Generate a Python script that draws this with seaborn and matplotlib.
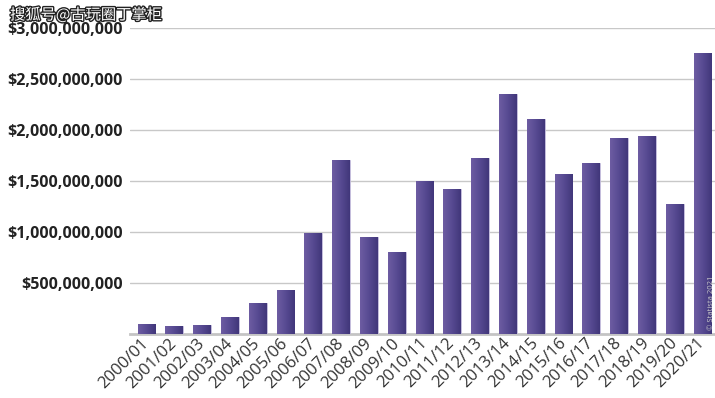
import numpy as np
import matplotlib
matplotlib.use("Agg")
import matplotlib.pyplot as plt
import matplotlib.patheffects as pe
from matplotlib.ticker import FuncFormatter
from matplotlib.colors import LinearSegmentedColormap
import seaborn as sns

# revenue per season (USD)
seasons = ["2000/01", "2001/02", "2002/03", "2003/04", "2004/05", "2005/06",
           "2006/07", "2007/08", "2008/09", "2009/10", "2010/11", "2011/12",
           "2012/13", "2013/14", "2014/15", "2015/16", "2016/17", "2017/18",
           "2018/19", "2019/20", "2020/21"]
revenue = [98e6, 78e6, 88e6, 167e6, 301e6, 428e6,
           987e6, 1703e6, 948e6, 804e6, 1497e6, 1425e6,
           1725e6, 2353e6, 2111e6, 1566e6, 1673e6, 1918e6,
           1938e6, 1271e6, 2752e6]
yticks = [5e8, 1e9, 1.5e9, 2e9, 2.5e9, 3e9]

sns.set_theme(style="white")
plt.rcParams['font.family'] = ['Open Sans', 'DejaVu Sans']

fig = plt.figure(figsize=(7.15, 3.98), dpi=100)
ax = fig.add_axes([130/715, 64/398, 585/715, 306/398])

sns.barplot(x=seasons, y=revenue, color="#5a4b8f", width=0.64,
            edgecolor="#c9c2e2", linewidth=0.6, ax=ax, zorder=3)

# horizontal gradient fill in each bar
grad = LinearSegmentedColormap.from_list("g", ["#6d5ca2", "#574a92", "#41377a"])
g = np.linspace(0, 1, 64).reshape(1, -1)
for p in ax.patches:
    x0, y0 = p.get_x(), p.get_y()
    w, h = p.get_width(), p.get_height()
    im = ax.imshow(g, cmap=grad, aspect="auto", extent=[x0, x0 + w, y0, y0 + h],
                   zorder=3.5, interpolation="bilinear")
    im.set_clip_path(p)

ax.set_xlim(-0.59, 20.45)
ax.set_ylim(0, 3e9)
ax.set_yticks(yticks)
ax.yaxis.set_major_formatter(FuncFormatter(lambda v, pos: f"${v:,.0f}"))
ax.grid(axis="y", color="#c8c8c8", linewidth=1, zorder=0)
for s in ["top", "right", "left"]:
    ax.spines[s].set_visible(False)
ax.spines["bottom"].set_color("#c4c4c4")
ax.spines["bottom"].set_linewidth(2)
ax.tick_params(axis="y", length=0, pad=5, labelsize=11.5, labelcolor="#222222")
ax.tick_params(axis="x", length=0, pad=5, labelsize=12, labelcolor="#333333")
for t in ax.get_yticklabels():
    t.set_fontweight("bold")
plt.setp(ax.get_xticklabels(), rotation=45, ha="right", va="center",
         rotation_mode="anchor")
ax.set_xlabel("")
ax.set_ylabel("")

fig.text(0.9995, 0.17, "© Statista 2021", rotation=90, fontsize=5.5,
         color="#cccccc", ha="right", va="bottom")
fig.text(10/715, 1 - 15/398, "搜狐号@古玩圈丁掌柜", fontsize=11, color="white",
         family=["Noto Sans CJK SC", "DejaVu Sans"], va="center",
         path_effects=[pe.withStroke(linewidth=2, foreground="#222222")])

fig.savefig("out.png", dpi=100)
